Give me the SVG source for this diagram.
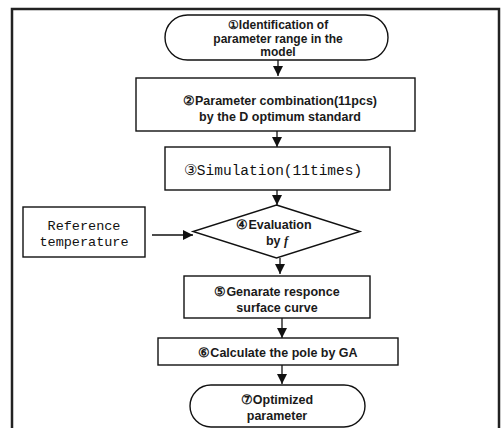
<svg xmlns="http://www.w3.org/2000/svg" width="503" height="428" viewBox="0 0 503 428">
<style>
.box{fill:#fff;stroke:#111;stroke-width:1.4}
.t{font-family:"Liberation Sans",Arial,sans-serif;font-size:12.5px;font-weight:bold;fill:#1a1a1a;text-anchor:middle}
.m{font-family:"Liberation Mono","Courier New",monospace;font-size:14.5px;fill:#111;text-anchor:middle}
.c{stroke:#111;stroke-width:1.3;fill:none}
</style>
<defs>
<marker id="ah" viewBox="0 0 10 10" refX="10" refY="5" markerWidth="10" markerHeight="10" markerUnits="userSpaceOnUse" orient="auto">
<path d="M0,0 L10,5 L0,10 Z" fill="#111"/>
</marker>
</defs>
<rect x="12" y="9" width="487" height="425" fill="none" stroke="#222" stroke-width="2.5"/>
<g id="connectors">
<line class="c" x1="278" y1="60" x2="278" y2="76" marker-end="url(#ah)"/>
<line class="c" x1="277" y1="131" x2="277" y2="147" marker-end="url(#ah)"/>
<line class="c" x1="277" y1="190" x2="277" y2="205" marker-end="url(#ah)"/>
<line class="c" x1="280" y1="258" x2="280" y2="274" marker-end="url(#ah)"/>
<line class="c" x1="282" y1="318" x2="282" y2="338" marker-end="url(#ah)"/>
<line class="c" x1="282" y1="365" x2="282" y2="384" marker-end="url(#ah)"/>
<line class="c" x1="152" y1="235" x2="193" y2="235" marker-end="url(#ah)"/>
</g>
<g id="n1">
<rect class="box" x="165" y="15" width="223" height="45" rx="22.5"/>
<text class="t" x="278" y="29" style="font-size:12px">①Identification of</text>
<text class="t" x="278" y="42.5" style="font-size:12px">parameter range in the</text>
<text class="t" x="278" y="56" style="font-size:12px">model</text>
</g>
<g id="n2">
<rect class="box" x="136" y="78" width="279" height="53"/>
<text class="t" x="280" y="105">②Parameter combination(11pcs)</text>
<text class="t" x="280" y="121">by the D optimum standard</text>
</g>
<g id="n3">
<rect class="box" x="165" y="147" width="225" height="43"/>
<text class="m" x="273" y="175">③Simulation(11times)</text>
</g>
<g id="ref">
<rect class="box" x="23" y="207" width="122" height="50"/>
<text class="m" x="84" y="230" style="font-size:13.5px">Reference</text>
<text class="m" x="84" y="246" style="font-size:13.5px">temperature</text>
</g>
<g id="n4">
<polygon class="box" points="276.5,205 360,231.5 276.5,258 193,231.5"/>
<text class="t" x="274" y="229">④Evaluation</text>
<text class="t" x="277" y="245">by <tspan font-family="'Liberation Serif',serif" font-style="italic">f</tspan></text>
</g>
<g id="n5">
<rect class="box" x="184" y="276" width="186" height="42"/>
<text class="t" x="277" y="296">⑤Genarate responce</text>
<text class="t" x="277" y="312">surface curve</text>
</g>
<g id="n6">
<rect class="box" x="158" y="338" width="240" height="27"/>
<text class="t" x="278" y="357">⑥Calculate the pole by GA</text>
</g>
<g id="n7">
<rect class="box" x="190" y="385" width="175" height="42" rx="21"/>
<text class="t" x="277" y="404">⑦Optimized</text>
<text class="t" x="277" y="420">parameter</text>
</g>
</svg>
